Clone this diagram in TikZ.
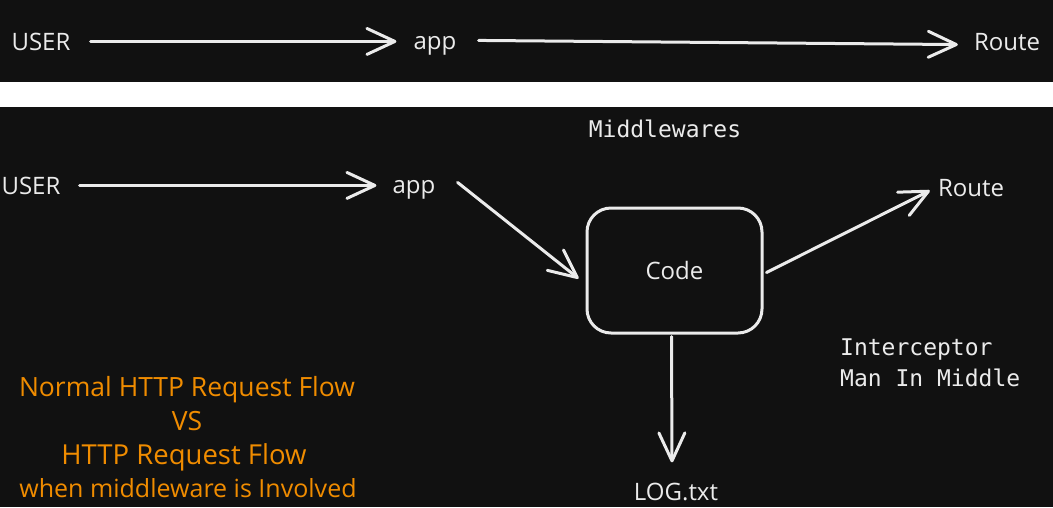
\documentclass[tikz,border=0pt]{standalone}
\usepackage{fontspec}
\setmainfont{Open Sans}
\newfontfamily\monof{DejaVu Sans Mono}
\usetikzlibrary{arrows.meta,calc}
\definecolor{bg}{RGB}{17,17,17}
\definecolor{ink}{RGB}{235,235,235}
\definecolor{orng}{RGB}{240,140,0}
\tikzset{
  lbl/.style={text=ink,inner sep=0pt,anchor=base,font=\fontsize{24}{28}\selectfont},
  mono/.style={text=ink,inner sep=0pt,font=\monof\fontsize{23}{31}\selectfont},
  note/.style={text=orng,inner sep=0pt,font=\fontsize{26.5}{30}\selectfont},
  arr/.style={draw=ink,line width=3pt,line cap=round,-{Straight Barb[length=28pt,width=26pt,round]}},
  codebox/.style={draw=ink,line width=3pt,rounded corners=24pt,minimum width=175pt,minimum height=125pt,text=ink,font=\fontsize{24}{28}\selectfont}
}
\begin{document}
\begin{tikzpicture}[x=1pt,y=-1pt]
\useasboundingbox (0,0) rectangle (1053,507);
\fill[bg] (0,0) rectangle (1053,507);
\fill[white] (0,82) rectangle (1053,107);
% top row
\node[lbl] (u1) at (41,50) {USER};
\node[lbl] (a1) at (435,49) {app};
\node[lbl] (r1) at (1007,50) {Route};
\draw[arr] ($(u1.east)+(20,0)$) -- ($(u1.east -| a1.west)+(-17,0)$);
\draw[arr] ($(a1.east |- u1.east)+(22,-1)$) -- ($(r1.west)+(-16,3)$);
% bottom section
\node[mono] (mid) at (665,129) {Middlewares};
\node[lbl] (u2) at (31,194) {USER};
\node[lbl] (a2) at (414,193) {app};
\node[codebox] (code) at (674.5,270.5) {Code};
\node[lbl] (r2) at (971,196) {Route};
\node[lbl] (log) at (676,500) {LOG.txt};
\node[mono,anchor=west,align=left] (inter) at (840,363) {Interceptor\\Man In Middle};
\draw[arr] ($(u2.east)+(19,0)$) -- ($(u2.east -| a2.west)+(-16,0)$);
\draw[arr] ($(a2.east |- u2.east)+(22,-3)$) -- ($(code.west)+(-7,8)$);
\draw[arr] ($(code.east)+(3,2)$) -- ($(r2.west)+(-8,3)$);
\draw[arr] ($(code.south)+(-3,2)$) -- ($(log.north)+(-4,-20)$);
% orange note
\node[note] (n1) at (187,390) {Normal HTTP Request Flow};
\node[note] (n2) at (187,421) {VS};
\node[note,font=\fontsize{27.5}{30}\selectfont] (n3) at (184,457) {HTTP Request Flow};
\node[note,font=\fontsize{25}{30}\selectfont] (n4) at (188,488) {when middleware is Involved};
\end{tikzpicture}
\end{document}
